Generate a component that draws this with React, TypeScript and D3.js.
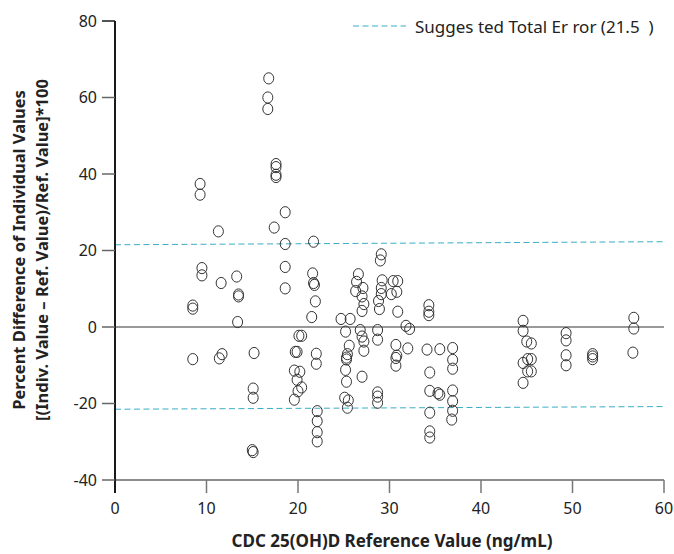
import * as d3 from "d3";

// CDC reference value (ng/mL) for each sample
const refValues = [
  8.5, 8.5, 8.5, 9.3, 9.3, 9.5, 9.5, 11.3, 11.6, 11.7, 11.4,
  13.3, 13.5, 13.5, 13.4, 15.2, 15.1, 15.1, 15.0, 15.1,
  16.8, 16.7, 16.7, 17.6, 17.6, 17.6, 17.6, 17.4, 18.6, 18.6, 18.6, 18.6,
  20.1, 20.4, 19.7, 19.9, 19.6, 20.2, 19.9, 20.4, 20.0, 19.6,
  21.7, 21.6, 21.7, 21.8, 21.9, 21.5, 22.0, 22.0, 22.1, 22.1, 22.1, 22.1,
  24.7, 25.7, 25.2, 25.6, 25.4, 25.3, 25.3, 25.2, 25.3, 25.1, 25.5, 25.4,
  26.6, 26.4, 27.1, 26.3, 27.0, 27.2, 27.0, 26.8, 27.0, 27.2, 27.2, 27.0,
  29.1, 29.0, 29.2, 29.1, 29.1, 28.8, 28.9, 28.7, 28.7, 28.7, 28.7, 28.7,
  30.4, 30.9, 30.8, 30.2, 30.9, 30.7, 30.8, 30.7, 30.7, 31.8, 32.2, 32.0,
  34.3, 34.3, 34.3, 34.1, 34.4, 34.4, 34.4, 34.4, 34.4, 35.3, 35.5, 35.5,
  36.9, 36.9, 36.9, 36.9, 36.9, 36.9, 36.8,
  44.6, 44.6, 45.0, 45.5, 44.6, 45.1, 45.5, 45.1, 45.5, 44.6,
  49.3, 49.3, 49.3, 49.3, 52.2, 52.2, 52.2, 56.7, 56.7, 56.6,
];

// percent difference of individual values
const pctDiff = [
  5.6, 4.8, -8.4, 37.4, 34.6, 15.4, 13.5, 25, 11.5, -7.1, -8.2,
  13.2, 8.5, 8.0, 1.3, -6.8, -16.1, -18.5, -32.2, -32.7,
  65, 60, 57, 42.6, 41.8, 39.8, 39.2, 26, 30, 21.7, 15.7, 10.1,
  -2.3, -2.3, -6.5, -6.5, -11.4, -11.7, -13.8, -15.8, -16.8, -19.0,
  22.3, 14, 11.5, 11, 6.7, 2.6, -7.0, -9.6, -22, -24.6, -27.5, -29.9,
  2.1, 2.1, -1.2, -4.9, -7.1, -8.0, -8.5, -11.2, -14.3, -18.5, -19.2, -21.1,
  13.8, 11.8, 10.2, 9.4, 8.0, 6.0, 4.2, -0.8, -2.5, -3.8, -6.2, -13,
  19, 17.4, 12.2, 10.2, 8.6, 6.8, 4.7, -0.8, -3.3, -17.1, -18.2, -19.8,
  12, 12, 9.2, 8.6, 4.0, -4.7, -7.5, -8.1, -10.1, 0.3, -0.5, -5.6,
  5.7, 4.0, 3.1, -5.9, -11.9, -16.7, -22.4, -27.3, -28.9, -17.3, -17.7, -5.8,
  -5.5, -8.6, -10.9, -16.6, -19.4, -21.9, -24.2,
  1.6, -1.0, -3.8, -4.3, -9.4, -8.4, -8.4, -11.6, -11.6, -14.6,
  -1.6, -3.5, -7.4, -10.0, -7.1, -7.7, -8.4, 2.4, -0.4, -6.7,
];

// suggested total error limits (endpoints at x = 0 and x = 60)
const upperLimit = [21.5, 22.3];
const lowerLimit = [-21.5, -20.8];
const limitX = [0, 60];

const xTicks = [0, 10, 20, 30, 40, 50, 60];
const yTicks = [-40, -20, 0, 20, 40, 60, 80];

const legendLabel = "Sugges ted Total Er ror (21.5  )";
const xTitle = "CDC 25(OH)D Reference Value (ng/mL)";
const yTitle1 = "Percent Difference of Individual Values";
const yTitle2 = "[(Indiv. Value \u2013 Ref. Value)/Ref. Value]*100";

export default function App() {
  const width = 674;
  const height = 554;
  const font = "'Noto Sans', 'Open Sans', sans-serif";
  const teal = "#3aaec6";

  const x = d3.scaleLinear().domain([0, 60]).range([115, 664]);
  const y = d3.scaleLinear().domain([-40, 80]).range([480, 21]);

  const line = d3
    .line<[number, number]>()
    .x((d) => x(d[0]))
    .y((d) => y(d[1]));

  const upper = limitX.map((v, i) => [v, upperLimit[i]] as [number, number]);
  const lower = limitX.map((v, i) => [v, lowerLimit[i]] as [number, number]);

  return (
    <svg
      width={width}
      height={height}
      style={{ position: "absolute", left: 0, top: 0, background: "#fff" }}
      fontFamily={font}
    >
      {/* zero line */}
      <line x1={x(0)} x2={x(60)} y1={y(0)} y2={y(0)} stroke="#777" strokeWidth={1.5} />

      {/* total error limits */}
      <path d={line(upper)!} fill="none" stroke={teal} strokeWidth={1} strokeDasharray="6,3.5" />
      <path d={line(lower)!} fill="none" stroke={teal} strokeWidth={1} strokeDasharray="6,3.5" />

      {/* x axis */}
      <line x1={x(0)} x2={x(60)} y1={y(-40)} y2={y(-40)} stroke="#666" strokeWidth={1.5} />
      {xTicks.map((t) => (
        <g key={"xt" + t}>
          <line x1={x(t)} x2={x(t)} y1={y(-40)} y2={y(-40) + 13} stroke={t === 0 ? "#1a1a1a" : "#777"} strokeWidth={t === 0 ? 2 : 1.5} />
          <text x={x(t)} y={514} textAnchor="middle" fontSize={16} fill="#222">
            {t}
          </text>
        </g>
      ))}

      {/* y axis */}
      <line x1={x(0)} x2={x(0)} y1={y(80)} y2={y(-40) + 13} stroke="#1a1a1a" strokeWidth={2} />
      {yTicks.map((t) => (
        <g key={"yt" + t}>
          <line x1={x(0) - 13} x2={x(0)} y1={y(t)} y2={y(t)} stroke={t === 80 ? "#1a1a1a" : "#666"} strokeWidth={1.5} />
          <text x={97} y={y(t)} dy="0.35em" textAnchor="end" fontSize={16} fill="#222">
            {t}
          </text>
        </g>
      ))}

      {/* points */}
      {refValues.map((v, i) => (
        <ellipse
          key={"p" + i}
          cx={x(v)}
          cy={y(pctDiff[i])}
          rx={5}
          ry={5.6}
          fill="none"
          stroke="#333"
          strokeWidth={1}
        />
      ))}

      {/* legend */}
      <line x1={353} x2={406} y1={26} y2={26} stroke={teal} strokeWidth={1} strokeDasharray="6,3.5" />
      <text x={415} y={33} fontSize={17} fill="#222" style={{ whiteSpace: "pre" }}>
        {legendLabel}
      </text>

      {/* axis titles */}
      <text x={392} y={547} textAnchor="middle" fontSize={17} fontWeight="bold" fill="#222">
        {xTitle}
      </text>
      <g transform="translate(25,250) rotate(-90)">
        <text x={0} y={0} textAnchor="middle" fontSize={16.5} fontWeight="bold" fill="#222">
          {yTitle1}
        </text>
        <text x={0} y={23} textAnchor="middle" fontSize={16.5} fontWeight="bold" fill="#222">
          {yTitle2}
        </text>
      </g>
    </svg>
  );
}
